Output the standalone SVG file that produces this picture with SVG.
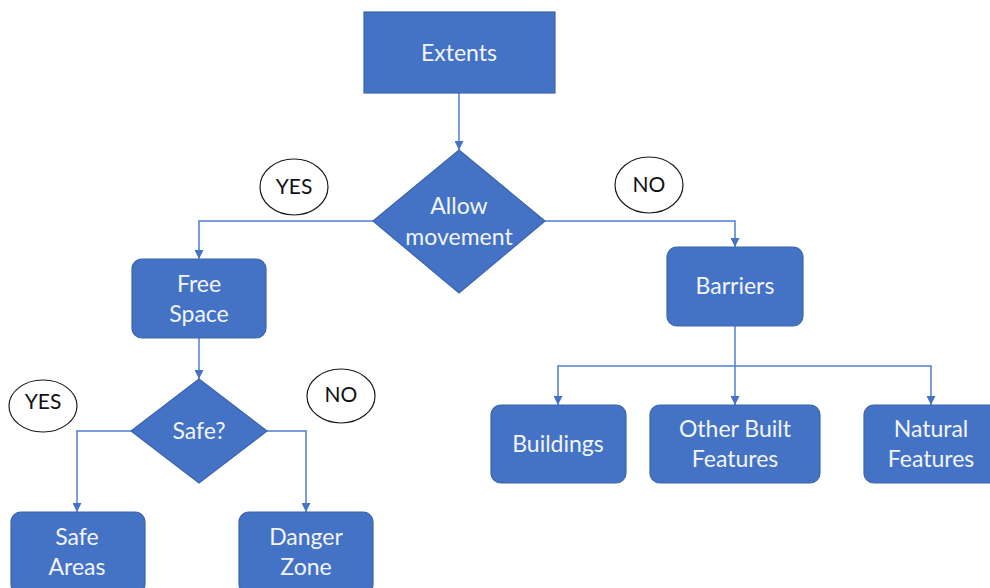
<svg xmlns="http://www.w3.org/2000/svg" width="990" height="588" viewBox="0 0 990 588">
  <style>
    .box { fill: #4472C4; stroke: #3B64AD; stroke-width: 1.2; }
    .lbl { font-family: Lato, "Liberation Sans", sans-serif; font-size: 23px; fill: #F2F5FB; text-anchor: middle; }
    .tag { fill: #FFFFFF; stroke: #1A1A1A; stroke-width: 1.2; }
    .tagtxt { font-family: Lato, "Liberation Sans", sans-serif; font-size: 21px; fill: #111111; text-anchor: middle; }
    .link { fill: none; stroke: #4E7FD3; stroke-width: 1.5; marker-end: url(#arrow); }
  </style>
  <defs>
    <marker id="arrow" viewBox="0 0 10 10" refX="10" refY="5" markerWidth="9" markerHeight="9" markerUnits="userSpaceOnUse" orient="auto">
      <path d="M0,0 L10,5 L0,10 z" fill="#4472C4"/>
    </marker>
  </defs>
  <rect width="990" height="588" fill="#FFFFFF"/>

  <!-- connectors -->
  <g id="connectors">
    <path class="link" d="M459,93 V150"/>
    <path class="link" d="M373,221 H199 V259"/>
    <path class="link" d="M545,221 H735 V247"/>
    <path class="link" d="M199,338 V379"/>
    <path class="link" d="M131,431 H77 V512"/>
    <path class="link" d="M267,431 H306 V512"/>
    <path class="link" d="M735,326 V405"/>
    <path class="link" d="M735,366 H558 V405"/>
    <path class="link" d="M735,366 H931 V405"/>
  </g>

  <!-- branch labels -->
  <g id="yes-top">
    <ellipse class="tag" cx="294" cy="187" rx="34" ry="28"/>
    <text class="tagtxt" x="294" y="194">YES</text>
  </g>
  <g id="no-top">
    <ellipse class="tag" cx="649" cy="185" rx="34" ry="28"/>
    <text class="tagtxt" x="649" y="192">NO</text>
  </g>
  <g id="yes-bottom">
    <ellipse class="tag" cx="43" cy="406" rx="34" ry="26"/>
    <text class="tagtxt" x="43" y="409">YES</text>
  </g>
  <g id="no-bottom">
    <ellipse class="tag" cx="341" cy="396" rx="34" ry="27"/>
    <text class="tagtxt" x="341" y="402">NO</text>
  </g>

  <!-- nodes -->
  <g id="extents">
    <rect class="box" x="364" y="12" width="191" height="81"/>
    <text class="lbl" x="459" y="61">Extents</text>
  </g>
  <g id="allow-movement">
    <polygon class="box" points="459,150 545,221 459,293 373,221"/>
    <text class="lbl" x="459" y="214">Allow</text>
    <text class="lbl" x="459" y="245">movement</text>
  </g>
  <g id="free-space">
    <rect class="box" x="132" y="259" width="134" height="79" rx="10"/>
    <text class="lbl" x="199" y="292">Free</text>
    <text class="lbl" x="199" y="322">Space</text>
  </g>
  <g id="barriers">
    <rect class="box" x="667" y="247" width="136" height="79" rx="10"/>
    <text class="lbl" x="735" y="294">Barriers</text>
  </g>
  <g id="safe">
    <polygon class="box" points="199,379 267,431 199,483 131,431"/>
    <text class="lbl" x="199" y="439">Safe?</text>
  </g>
  <g id="safe-areas">
    <rect class="box" x="11" y="512" width="134" height="82" rx="10"/>
    <text class="lbl" x="77" y="545">Safe</text>
    <text class="lbl" x="77" y="575">Areas</text>
  </g>
  <g id="danger-zone">
    <rect class="box" x="239" y="512" width="134" height="82" rx="10"/>
    <text class="lbl" x="306" y="545">Danger</text>
    <text class="lbl" x="306" y="575">Zone</text>
  </g>
  <g id="buildings">
    <rect class="box" x="491" y="405" width="135" height="78" rx="10"/>
    <text class="lbl" x="558" y="452">Buildings</text>
  </g>
  <g id="other-built-features">
    <rect class="box" x="650" y="405" width="170" height="78" rx="10"/>
    <text class="lbl" x="735" y="437">Other Built</text>
    <text class="lbl" x="735" y="467">Features</text>
  </g>
  <g id="natural-features">
    <rect class="box" x="864" y="405" width="136" height="78" rx="10"/>
    <text class="lbl" x="931" y="437">Natural</text>
    <text class="lbl" x="931" y="467">Features</text>
  </g>
</svg>
